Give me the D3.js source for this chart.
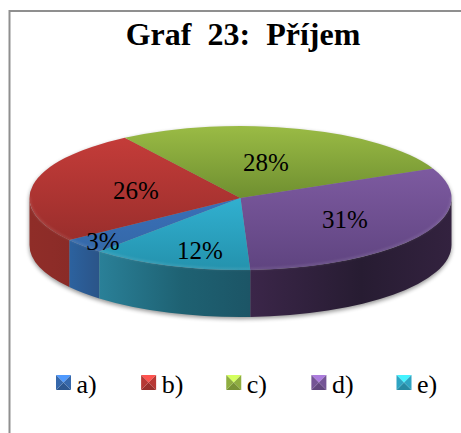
<!DOCTYPE html>
<html><head><meta charset="utf-8">
<script src="https://cdn.jsdelivr.net/npm/d3@7/dist/d3.min.js"></script>
<style>html,body{margin:0;padding:0;background:#fff}svg{display:block}text{font-family:"Liberation Serif","Times New Roman",serif;fill:#000}</style>
</head><body><svg id="c" width="461" height="433"></svg>
<script>
const titleText = "Graf\u00A0\u00A023:\u00A0\u00A0Příjem";
const categories = ["a)", "b)", "c)", "d)", "e)"];
const values = [3.4, 25.7, 27.5, 31, 12.4];
const baseColors = ["#3a70b8", "#c43c39", "#9abb45", "#7d5aa0", "#31b0d0"];
const topEndColors = ["#3468a8", "#9a2e2c", "#6f8f30", "#5f4480", "#2492ad"];
const wallStart = ["#2c629f", "#8f2d28", "#6f8f30", "#3b2649", "#2a8098"];
const wallMid = ["#2b5a92", "#8d2c28", "#6f8f30", "#271c32", "#1e6172"];
const wallEnd = ["#2b5488", "#8a2b27", "#6f8f30", "#33223f", "#1c5566"];
const labelFx = [0.876, 0.504, 0.432, 0.581, 0.57];
const labelFy = [0.917, 0.53, 0.507, 0.584, 0.78];

const W = 461, H = 433, cx = 240.5, cy = 198, rx = 211, ry = 72, depth = 47;
const rad = d => d * Math.PI / 180;
const svg = d3.select("#c");
const defs = svg.append("defs");

defs.append("filter").attr("id", "soft").attr("x", "-10%").attr("y", "-10%").attr("width", "120%").attr("height", "130%")
  .append("feGaussianBlur").attr("stdDeviation", 2);
defs.append("filter").attr("id", "rimBlur").attr("x", "-5%").attr("y", "-20%").attr("width", "110%").attr("height", "140%")
  .append("feGaussianBlur").attr("stdDeviation", 0.9);

svg.append("path").attr("d", `M9.5,${H}V11H${W}`).attr("fill", "none").attr("stroke", "#8f8f8f").attr("stroke-width", 2);

svg.append("text").attr("x", 243).attr("y", 45).attr("text-anchor", "middle")
  .attr("font-size", 32).attr("font-weight", "bold").text(titleText);

const pie = d3.pie().sort(null).startAngle(rad(222)).endAngle(rad(222 + 360));
const arcs = pie(values);
const arc = d3.arc().innerRadius(0).outerRadius(rx);
const px = t => rx * Math.sin(t), py = t => -ry * Math.cos(t);

const g = svg.append("g").attr("transform", `translate(${cx},${cy})`);

g.append("path")
  .attr("d", `M${-rx},0A${rx},${ry} 0 0 1 ${rx},0V${depth}A${rx},${ry} 0 0 1 ${-rx},${depth}Z`)
  .attr("transform", "translate(0,2)").attr("fill", "#000").attr("opacity", 0.42).attr("filter", "url(#soft)");

arcs.forEach((d, i) => {
  const t = defs.append("linearGradient").attr("id", "top" + i)
    .attr("x1", 0).attr("x2", 0).attr("y1", 0).attr("y2", 1);
  t.append("stop").attr("offset", 0).attr("stop-color", baseColors[i]);
  t.append("stop").attr("offset", 1).attr("stop-color", topEndColors[i]);
  const s = defs.append("linearGradient").attr("id", "wall" + i);
  s.append("stop").attr("offset", 0).attr("stop-color", wallStart[i]);
  s.append("stop").attr("offset", 0.55).attr("stop-color", wallMid[i]);
  s.append("stop").attr("offset", 1).attr("stop-color", wallEnd[i]);
});

const lo = rad(90), hi = rad(270);
const spans = [];
arcs.forEach((d, i) => {
  [0, rad(360)].forEach(off => {
    const a = Math.max(d.startAngle - off, lo), b = Math.min(d.endAngle - off, hi);
    if (b > a) spans.push({ a, b, i });
  });
});
g.selectAll("path.wall").data(spans).join("path").attr("class", "wall")
  .attr("fill", s => `url(#wall${s.i})`)
  .attr("d", s => `M${px(s.b)},${py(s.b)}A${rx},${ry} 0 0 0 ${px(s.a)},${py(s.a)}` +
    `V${py(s.a) + depth}A${rx},${ry} 0 0 1 ${px(s.b)},${py(s.b) + depth}Z`);

const topG = g.append("g").attr("transform", `scale(1,${ry / rx})`);
topG.selectAll("path.face").data(arcs).join("path").attr("class", "face")
  .attr("d", arc).attr("fill", (d, i) => `url(#top${i})`);

g.append("g").attr("filter", "url(#rimBlur)").selectAll("path.rim").data(spans).join("path").attr("class", "rim")
  .attr("fill", "none").attr("stroke", "#fff").attr("stroke-opacity", 0.14).attr("stroke-width", 1.5)
  .attr("d", s => `M${px(s.b)},${py(s.b) - 1}A${rx},${ry} 0 0 0 ${px(s.a)},${py(s.a) - 1}`);

g.selectAll("text.val").data(arcs).join("text").attr("class", "val")
  .attr("text-anchor", "middle").attr("font-size", 25)
  .attr("x", (d, i) => labelFx[i] * px((d.startAngle + d.endAngle) / 2))
  .attr("y", (d, i) => labelFy[i] * py((d.startAngle + d.endAngle) / 2) + 8)
  .text(d => Math.round(d.value) + "%");

const legendX = d3.scalePoint().domain(categories).range([56, 396.5]);
const sw = 15;
const leg = svg.append("g").selectAll("g").data(categories).join("g")
  .attr("transform", d => `translate(${legendX(d)},375)`);
const tri = {
  top: [[0,0],[sw,0],[sw/2,sw/2]], bottom: [[0,sw],[sw,sw],[sw/2,sw/2]],
  left: [[0,0],[0,sw],[sw/2,sw/2]], right: [[sw,0],[sw,sw],[sw/2,sw/2]]
};
const shade = { top: c => d3.color(c).brighter(0.9), bottom: c => d3.color(c).darker(0.7),
  left: c => d3.color(c).darker(0.2), right: c => d3.color(c).darker(0.2) };
Object.keys(tri).forEach(k => {
  leg.append("polygon").attr("points", tri[k].map(p => p.join(",")).join(" "))
    .attr("fill", (d, i) => shade[k](baseColors[i]));
});
leg.append("text").attr("x", 20.5).attr("y", 18).attr("font-size", 26).text(d => d);
</script></body></html>
